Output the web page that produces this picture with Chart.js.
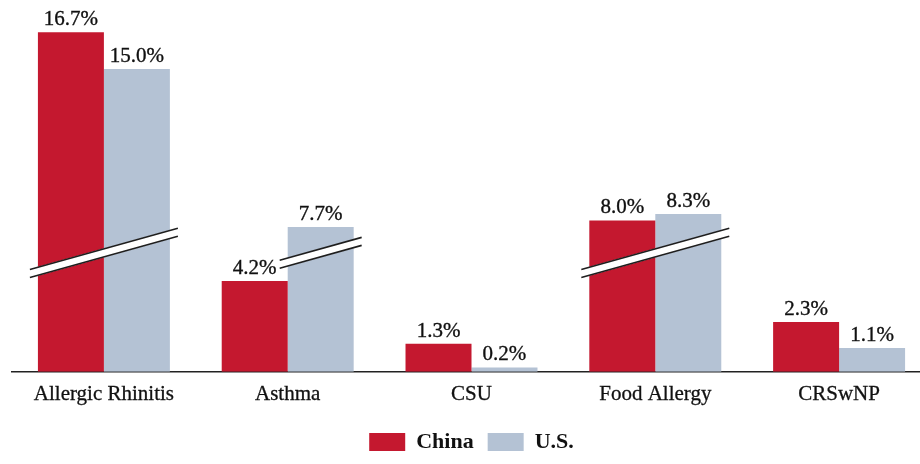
<!DOCTYPE html>
<html lang="en">

<head>
    <meta charset="UTF-8">
    <title>Allergic Disease Prevalence: China vs U.S.</title>
    <script src="https://cdn.jsdelivr.net/npm/chart.js"></script>
    <style>
        html, body {
            margin: 0;
            padding: 0;
            background: #fff;
            overflow: hidden;
        }

        .chart-box {
            position: relative;
            width: 931px;
            height: 464px;
        }
    </style>
</head>

<body>
    <div class="chart-box">
        <canvas id="prevalenceChart"></canvas>
    </div>

    <script>
        const categories = ['Allergic Rhinitis', 'Asthma', 'CSU', 'Food Allergy', 'CRSwNP'];
        const chinaRates = [16.7, 4.2, 1.3, 8.0, 2.3];
        const usRates = [15.0, 7.7, 0.2, 8.3, 1.1];

        // axis break: values between these two are cut out of the scale
        const breakFrom = 5.5;
        const breakTo = 6.5;

        const RED = '#c4182f';
        const BLUE = '#b4c2d4';
        const SERIF = "'Liberation Serif', 'Times New Roman', serif";

        function squeeze(v) {
            if (v <= breakFrom) return v;
            if (v >= breakTo) return v - (breakTo - breakFrom);
            return breakFrom;
        }

        // linear scale with a gap taken out
        class BrokenScale extends Chart.LinearScale {
            getPixelForValue(value) {
                return super.getPixelForValue(squeeze(value));
            }
        }
        BrokenScale.id = 'broken';
        BrokenScale.defaults = Chart.LinearScale.defaults;
        Chart.register(BrokenScale);

        // white double slash across bars that pass the break
        const breakMarks = {
            id: 'breakMarks',
            afterDatasetsDraw(chart) {
                const ctx = chart.ctx;
                const yScale = chart.scales.y;
                const yc = yScale.getPixelForValue(breakFrom);
                const slope = 0.28;
                categories.forEach((c, i) => {
                    const bars = [];
                    chart.data.datasets.forEach((ds, d) => {
                        if (ds.data[i] >= breakTo) bars.push(chart.getDatasetMeta(d).data[i]);
                    });
                    if (!bars.length) return;
                    const x1 = Math.min(...bars.map(b => b.x - b.width / 2)) - 8;
                    const x2 = Math.max(...bars.map(b => b.x + b.width / 2)) + 8;
                    const cx = (x1 + x2) / 2;
                    const yAt = x => yc - slope * (x - cx);
                    ctx.save();
                    ctx.fillStyle = '#fff';
                    ctx.beginPath();
                    ctx.moveTo(x1, yAt(x1) - 4.5);
                    ctx.lineTo(x2, yAt(x2) - 4.5);
                    ctx.lineTo(x2, yAt(x2) + 4.5);
                    ctx.lineTo(x1, yAt(x1) + 4.5);
                    ctx.closePath();
                    ctx.fill();
                    ctx.strokeStyle = '#1e1e1e';
                    ctx.lineWidth = 1.6;
                    [-4, 4].forEach(off => {
                        ctx.beginPath();
                        ctx.moveTo(x1, yAt(x1) + off);
                        ctx.lineTo(x2, yAt(x2) + off);
                        ctx.stroke();
                    });
                    ctx.restore();
                });
            }
        };

        // percentage above each bar
        const valueLabels = {
            id: 'valueLabels',
            afterDatasetsDraw(chart) {
                const ctx = chart.ctx;
                ctx.save();
                ctx.font = '21px ' + SERIF;
                ctx.fillStyle = '#111';
                ctx.strokeStyle = '#111';
                ctx.lineWidth = 0.35;
                ctx.textAlign = 'center';
                ctx.textBaseline = 'alphabetic';
                chart.data.datasets.forEach((ds, d) => {
                    chart.getDatasetMeta(d).data.forEach((bar, i) => {
                        const txt = ds.data[i].toFixed(1) + '%';
                        ctx.fillText(txt, bar.x, bar.y - 7);
                        ctx.strokeText(txt, bar.x, bar.y - 7);
                    });
                });
                ctx.restore();
            }
        };

        new Chart(document.getElementById('prevalenceChart'), {
            type: 'bar',
            data: {
                labels: categories,
                datasets: [
                    { label: 'China', data: chinaRates, backgroundColor: RED, borderWidth: 0 },
                    { label: 'U.S.', data: usRates, backgroundColor: BLUE, borderWidth: 0 }
                ]
            },
            options: {
                responsive: true,
                maintainAspectRatio: false,
                animation: false,
                devicePixelRatio: 1,
                categoryPercentage: 0.718,
                barPercentage: 1.0,
                layout: { padding: { left: 12, right: 0, top: 15, bottom: 1 } },
                scales: {
                    x: {
                        grid: { display: false, drawTicks: false },
                        border: { display: true, color: '#222', width: 1.5 },
                        ticks: {
                            color: '#111',
                            font: { family: SERIF, size: 21 },
                            textStrokeColor: '#111',
                            textStrokeWidth: 0.3,
                            padding: 10
                        }
                    },
                    y: {
                        type: 'broken',
                        display: false,
                        min: 0,
                        max: 16.5
                    }
                },
                plugins: {
                    legend: {
                        position: 'bottom',
                        labels: {
                            boxWidth: 36,
                            boxHeight: 18,
                            padding: 14,
                            color: '#111',
                            font: { family: SERIF, size: 22, weight: 'bold' }
                        }
                    },
                    tooltip: { enabled: false }
                }
            },
            plugins: [breakMarks, valueLabels]
        });
    </script>
</body>

</html>
